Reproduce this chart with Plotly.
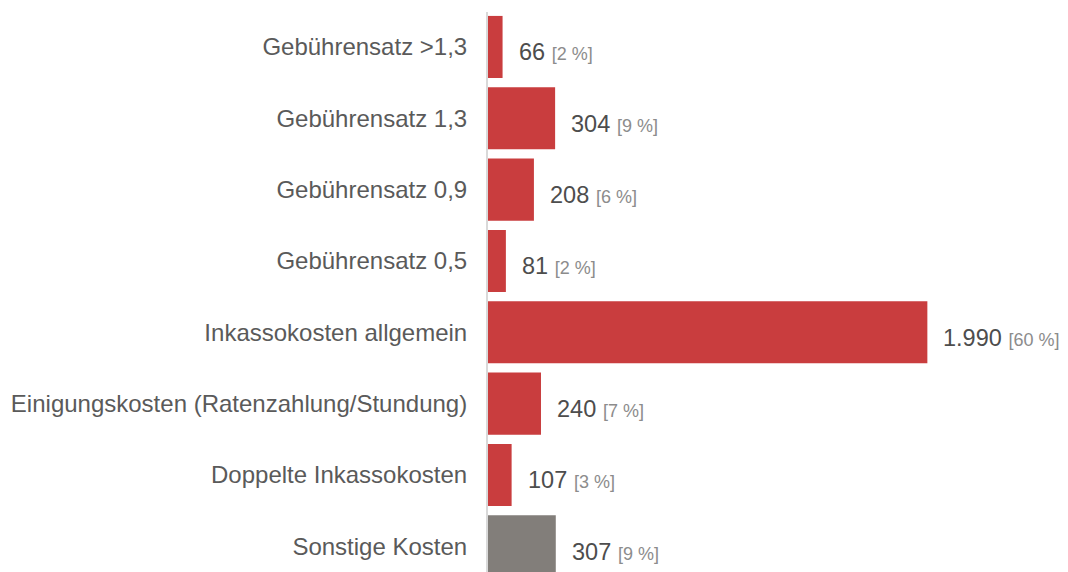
import plotly.graph_objects as go

categories = [
    "Gebührensatz >1,3",
    "Gebührensatz 1,3",
    "Gebührensatz 0,9",
    "Gebührensatz 0,5",
    "Inkassokosten allgemein",
    "Einigungskosten (Ratenzahlung/Stundung)",
    "Doppelte Inkassokosten",
    "Sonstige Kosten",
]
values = [66, 304, 208, 81, 1990, 240, 107, 307]
percents = [2, 9, 6, 2, 60, 7, 3, 9]
bar_colors = ["#C93D3E"] * 7 + ["#827E7A"]

positions = list(range(len(categories)))

fig = go.Figure()
fig.add_trace(go.Bar(
    y=positions,
    x=values,
    orientation="h",
    marker=dict(color=bar_colors, line=dict(width=0)),
    width=0.87,
    hoverinfo="skip",
))

for p, v, pc in zip(positions, values, percents):
    num = f"{v:,}".replace(",", ".")
    fig.add_annotation(
        x=v, y=p, xref="x", yref="y",
        text=(f"<span style='font-size:23.5px;color:#4D4D4D'>{num}</span>"
              f" <span style='font-size:18px;color:#8C8C8C'>[{pc} %]</span>"),
        showarrow=False, xanchor="left", yanchor="middle",
        xshift=14, yshift=-5,
        font=dict(family="Liberation Sans, Arial, sans-serif"),
    )

fig.update_layout(
    width=1068, height=572,
    margin=dict(l=488, r=0, t=12, b=0, autoexpand=False),
    paper_bgcolor="white", plot_bgcolor="white",
    showlegend=False,
    font=dict(family="Liberation Sans, Arial, sans-serif", size=24, color="#595959"),
    xaxis=dict(range=[0, 2627], showgrid=False, zeroline=False, showticklabels=False,
               showline=False, fixedrange=True, automargin=False),
    yaxis=dict(
        range=[7.36, -0.49],
        tickvals=positions, ticktext=categories,
        showgrid=False, zeroline=False, ticks="",
        showline=True, linecolor="#D9D9D9", linewidth=2,
        ticklabelstandoff=14, automargin=False,
        tickfont=dict(size=24, color="#5A5A5A"),
    ),
)

fig.write_html("out.html", config={"displayModeBar": False},
               post_script="document.body.style.margin='0';")
